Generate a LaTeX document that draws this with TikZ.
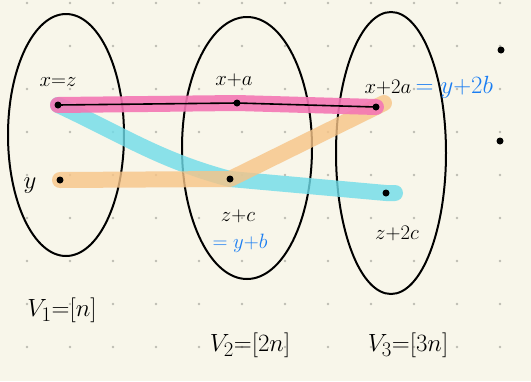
\documentclass[tikz,border=0pt]{standalone}
\usetikzlibrary{positioning, shapes.geometric}
\definecolor{paper}{HTML}{F8F6EA}
\definecolor{griddot}{HTML}{BDBCB2}
\definecolor{pinkhl}{HTML}{F477B4}
\definecolor{cyanhl}{HTML}{6FDCE9}
\definecolor{orangehl}{HTML}{F7C487}
\definecolor{inkblue}{HTML}{1A7DF2}

\begin{document}
\begin{tikzpicture}[
  x=1pt, y=-1pt,
  every node/.style={font=\fontsize{20.74}{24}\selectfont},
  set/.style={draw, ellipse, line width=2pt, inner sep=0pt},
  hl/.style={line width=16pt, line cap=round, line join=round, opacity=0.8},
  lbl/.style={inner sep=1pt},
  note/.style={inner sep=1pt, text=inkblue, font=\fontsize{24.88}{28}\selectfont},
  part/.style={inner sep=1pt, font=\fontsize{24.88}{28}\selectfont}
]

% Paper and dot grid
\fill[paper] (0,0) rectangle (531,381);
\useasboundingbox (0,0) rectangle (531,381);
\foreach \i in {0,...,11}
  \foreach \j in {0,...,8}
    \fill[griddot] (27+43*\i, 3+43*\j) circle (1.3);

% Parts
\node[set, minimum width=116, minimum height=242] (S1) at (66,135) {};
\node[set, minimum width=130, minimum height=262] (S2) at (247,148) {};
\node[set, minimum width=110, minimum height=282] (S3) at (391,153) {};

% Points
\coordinate (xz)  at (58,105);
\coordinate (xa)  at (237,103);
\coordinate (x2a) at (376,107);
\coordinate (y)   at (60,180);
\coordinate (zc)  at (230,179);
\coordinate (z2c) at (386,193);
\coordinate (e1)  at (501,50);
\coordinate (e2)  at (500,141);

% Highlights
\draw[hl, cyanhl] (xz) to[out=-25, in=165] (zc) -- (z2c) -- ++(9,0);
\draw[hl, orangehl] (y) -- (zc) -- (x2a) -- ++(8,-4);
\draw[hl, pinkhl, opacity=0.9] (xz) -- (xa) -- (x2a);

% Line through the pink points
\draw[line width=1.6pt] (xz) -- (xa) -- (x2a);

\foreach \p in {xz, xa, x2a, y, zc, z2c, e1, e2}
  \fill (\p) circle (3.5);

% Labels
\node[lbl] (Lxz)  at (58,82)  {$x{=}z$};
\node[lbl] (Lxa)  at (234,80) {$x{+}a$};
\node[lbl] (Lx2a) at (388,87) {$x{+}2a$};
\node[note, right=2pt of Lx2a] (Ny2b) {$={y{+}2b}$};
\node[lbl, font=\fontsize{24.88}{28}\selectfont] (Ly) at (30,186) {$y$};
\node[lbl] (Lzc)  at (238,216) {$z{+}c$};
\node[note, font=\fontsize{20.74}{24}\selectfont] (Nyb) at (240,243) {$={y{+}b}$};
\node[lbl] (Lz2c) at (397,233) {$z{+}2c$};

% Part names
\node[part] (V1) at (62,310)  {$V_1{=}[n]$};
\node[part] (V2) at (250,345) {$V_2{=}[2n]$};
\node[part] (V3) at (408,345) {$V_3{=}[3n]$};

\end{tikzpicture}
\end{document}
